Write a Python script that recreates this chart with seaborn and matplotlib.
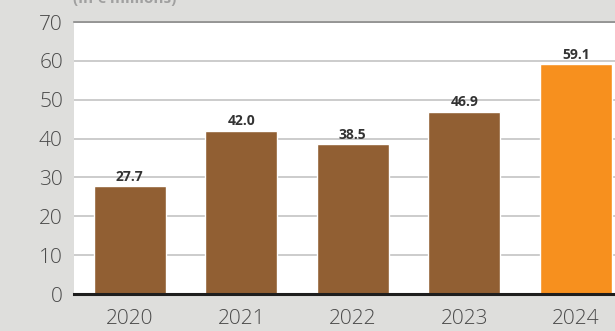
import matplotlib
matplotlib.use("Agg")
import matplotlib.pyplot as plt
import seaborn as sns
import pandas as pd

years = ["2020", "2021", "2022", "2023", "2024"]
values = [27.7, 42.0, 38.5, 46.9, 59.1]
bar_colors = ["#915f33", "#915f33", "#915f33", "#915f33", "#f7901e"]
y_ticks = [0, 10, 20, 30, 40, 50, 60, 70]
unit_label = "(in € millions)"

sns.set_theme(style="white")
plt.rcParams["font.family"] = ["Open Sans", "DejaVu Sans"]

df = pd.DataFrame({"year": years, "value": values})

bg = "#dededc"
fig = plt.figure(figsize=(6.15, 3.31), dpi=100, facecolor=bg)
ax = fig.add_axes([74 / 615, 37 / 331, 557.5 / 615, 272 / 331])
ax.set_facecolor("white")

sns.barplot(data=df, x="year", y="value", hue="year", palette=bar_colors,
            width=0.645, legend=False, ax=ax, saturation=1, zorder=3)

ax.set_xlim(-0.5, 4.5)
ax.set_ylim(0, 70)
ax.set_yticks(y_ticks)
ax.yaxis.grid(True, color="#c4c4c4", linewidth=1.2, zorder=0)
ax.set_axisbelow(True)

for s in ["left", "right"]:
    ax.spines[s].set_visible(False)
ax.spines["top"].set_color("#8a8a8a")
ax.spines["top"].set_linewidth(1.2)
ax.spines["bottom"].set_color("#1e1e1e")
ax.spines["bottom"].set_linewidth(2.2)
ax.spines["bottom"].set_zorder(5)

ax.tick_params(axis="both", length=0, labelsize=15, labelcolor="#4a4a4a")
ax.tick_params(axis="y", pad=8)
ax.tick_params(axis="x", pad=11)
for lbl in ax.get_xticklabels() + ax.get_yticklabels():
    lbl.set_fontweight("light")
ax.set_xlabel("")
ax.set_ylabel("")

for i, v in enumerate(values):
    ax.annotate(f"{v:.1f}", xy=(i, v), xytext=(0, 2), textcoords="offset points",
                ha="center", va="bottom", fontsize=10, fontweight="bold",
                color="#333333", zorder=6)

fig.text(73 / 615, 1.0 + 1 / 331, unit_label, ha="left", va="center",
         fontsize=11, fontweight="bold", color="#a0a0a0")

fig.savefig("out.png", dpi=100, facecolor=bg)
